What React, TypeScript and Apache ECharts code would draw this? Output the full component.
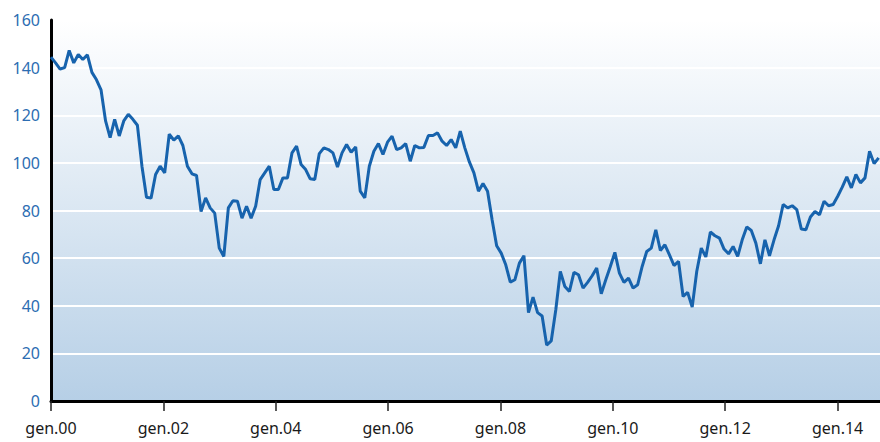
import React, { useEffect, useRef } from 'react';
import * as echarts from 'echarts';

// x-axis tick labels (one every two years)
const TICK_LABELS = ['gen.00', 'gen.02', 'gen.04', 'gen.06', 'gen.08', 'gen.10', 'gen.12', 'gen.14'];

// y-axis range
const Y_MIN = 0;
const Y_MAX = 160;
const Y_STEP = 20;

// observations per tick-label step, and axis extent (in observation index units)
const TICK_STEP = 24.71;
const X_MAX = 182.3;

// index values, 2000 -> 2014
const VALUES_2000_2003 = [
  144.4, 142.0, 139.4, 140.0, 147.2, 142.0, 145.5, 143.4, 145.4, 138.0,
  134.9, 130.7, 117.6, 110.6, 118.3, 111.3, 117.6, 120.4, 118.3, 115.8,
  98.6, 85.6, 85.2, 95.1, 98.6, 95.8, 112.0, 109.6, 111.3, 107.3,
  98.6, 95.4, 94.7, 79.6, 85.3, 81.1, 78.9, 64.2, 60.7, 81.1,
  84.1, 83.9, 76.8, 81.8, 76.8, 81.8,
];
const VALUES_2004_2007 = [
  93.0, 95.8, 98.6, 88.8, 88.8, 93.7, 93.7, 104.2, 107.0, 99.3,
  97.2, 93.3, 93.0, 103.9, 106.3, 105.6, 104.2, 98.2, 104.2, 107.7,
  104.5, 106.7, 88.1, 85.3, 98.6, 104.9, 108.1, 103.5, 108.7, 111.2,
  105.6, 106.3, 108.1, 100.7, 107.3, 106.3, 106.5, 111.5, 111.5, 112.6,
  109.1, 107.3, 109.8, 106.3, 113.3, 106.3, 100.4, 95.8,
];
const VALUES_2008_2011 = [
  88.1, 91.3, 88.1, 76.1, 65.2, 62.1, 57.2, 49.9, 50.9, 57.9,
  61.0, 37.1, 43.6, 37.1, 35.7, 23.5, 25.2, 38.2, 54.4, 48.1,
  46.0, 54.0, 53.0, 47.4, 49.8, 52.6, 55.8, 45.0, 50.9, 56.5,
  62.4, 53.7, 49.8, 51.6, 47.4, 48.8, 56.5, 62.8, 64.2, 71.9,
  63.2, 65.6, 61.4, 56.9, 58.6, 43.9, 45.6, 39.4,
];
const VALUES_2012_2014 = [
  54.4, 64.2, 60.5, 71.0, 69.4, 68.4, 63.8, 61.8, 64.9, 60.7,
  67.7, 73.1, 71.6, 66.3, 57.6, 67.7, 61.0, 67.7, 73.6, 82.5,
  81.1, 82.0, 80.4, 72.2, 71.9, 77.3, 79.6, 78.2, 83.9, 82.0,
  82.5, 86.0, 89.8, 94.1, 89.5, 95.1, 91.6, 93.7, 104.9, 99.7,
  102.1,
];

const VALUES = [...VALUES_2000_2003, ...VALUES_2004_2007, ...VALUES_2008_2011, ...VALUES_2012_2014];

export default function App() {
  const ref = useRef<HTMLDivElement>(null);

  useEffect(() => {
    document.body.style.margin = '0';
    const chart = echarts.init(ref.current as HTMLDivElement, null, { renderer: 'svg' });
    const tickValues = TICK_LABELS.map((_, k) => Number((k * TICK_STEP).toFixed(3)));

    chart.setOption({
      animation: false,
      grid: {
        left: 51,
        right: 0,
        top: 20,
        bottom: 41,
        show: true,
        borderWidth: 0,
        backgroundColor: new echarts.graphic.LinearGradient(0, 0, 0, 1, [
          { offset: 0, color: '#ffffff' },
          { offset: 1, color: '#b6cfe6' },
        ]),
      },
      xAxis: {
        type: 'value',
        min: 0,
        max: X_MAX,
        interval: TICK_STEP,
        axisLine: { show: true, lineStyle: { color: '#000000', width: 3 } },
        axisTick: {
          show: true,
          length: 10,
          customValues: tickValues,
          lineStyle: { color: '#222222', width: 1.5 },
        },
        axisLabel: {
          customValues: tickValues,
          formatter: (v: number) => TICK_LABELS[Math.round(v / TICK_STEP)] ?? '',
          margin: 19,
          color: '#1a1a1a',
          fontSize: 16,
          fontFamily: 'Noto Sans',
        },
        splitLine: { show: false },
      },
      yAxis: {
        type: 'value',
        min: Y_MIN,
        max: Y_MAX,
        interval: Y_STEP,
        axisLine: { show: true, lineStyle: { color: '#000000', width: 3 } },
        axisTick: { show: false },
        axisLabel: {
          margin: 11,
          color: '#2C6DB2',
          fontSize: 16,
          fontFamily: 'Noto Sans',
        },
        splitLine: { show: true, lineStyle: { color: '#ffffff', width: 2 } },
      },
      series: [
        {
          type: 'line',
          data: VALUES.map((v, i) => [i, v]),
          showSymbol: false,
          symbol: 'none',
          lineStyle: { color: '#1763ad', width: 3 },
          itemStyle: { color: '#1763ad' },
        },
      ],
    });

    return () => chart.dispose();
  }, []);

  return <div ref={ref} style={{ width: 880, height: 442 }} />;
}
